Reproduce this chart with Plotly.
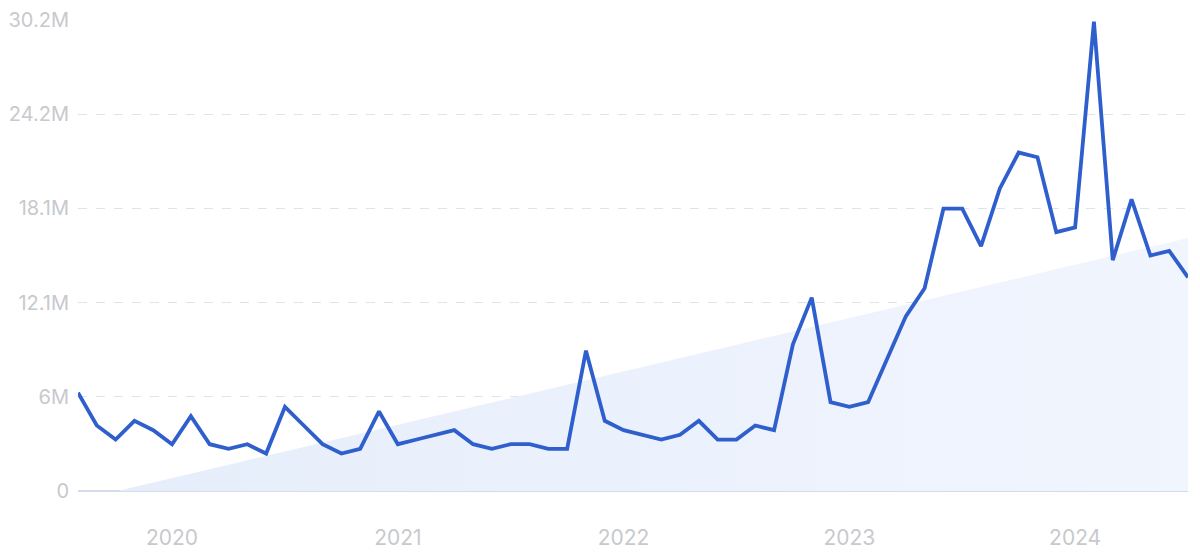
import numpy as np
import plotly.graph_objects as go

# Monthly values (millions), Aug 2019 .. Jul 2024
months = [
    "2019-08", "2019-09", "2019-10", "2019-11", "2019-12",
    "2020-01", "2020-02", "2020-03", "2020-04", "2020-05", "2020-06",
    "2020-07", "2020-08", "2020-09", "2020-10", "2020-11", "2020-12",
    "2021-01", "2021-02", "2021-03", "2021-04", "2021-05", "2021-06",
    "2021-07", "2021-08", "2021-09", "2021-10", "2021-11", "2021-12",
    "2022-01", "2022-02", "2022-03", "2022-04", "2022-05", "2022-06",
    "2022-07", "2022-08", "2022-09", "2022-10", "2022-11", "2022-12",
    "2023-01", "2023-02", "2023-03", "2023-04", "2023-05", "2023-06",
    "2023-07", "2023-08", "2023-09", "2023-10", "2023-11", "2023-12",
    "2024-01", "2024-02", "2024-03", "2024-04", "2024-05", "2024-06",
    "2024-07",
]
values_m = [
    6.3, 4.2, 3.3, 4.5, 3.9,
    3.0, 4.8, 3.0, 2.7, 3.0, 2.4,
    5.4, 4.2, 3.0, 2.4, 2.7, 5.1,
    3.0, 3.3, 3.6, 3.9, 3.0, 2.7,
    3.0, 3.0, 2.7, 2.7, 9.0, 4.5,
    3.9, 3.6, 3.3, 3.6, 4.5, 3.3,
    3.3, 4.2, 3.9, 9.4, 12.4, 5.7,
    5.4, 5.7, 8.4, 11.2, 13.0, 18.1,
    18.1, 15.7, 19.4, 21.7, 21.4, 16.6,
    16.9, 30.1, 14.8, 18.7, 15.1, 15.4,
    13.7,
]
y_tick_values_m = [0, 6.04, 12.08, 18.12, 24.16, 30.2]
y_tick_labels = ["0", "6M", "12.1M", "18.1M", "24.2M", "30.2M"]
year_labels = ["2020", "2021", "2022", "2023", "2024"]

idx = np.arange(len(months))
vals = np.array(values_m) * 1e6

# Linear trend (regression of the series), clipped at zero
a, b = np.polyfit(idx, vals, 1)
x0 = max(0.0, -b / a)
xn = float(idx[-1])
trend_x = [x0, xn]
trend_y = [a * x0 + b if x0 == 0 else 0.0, a * xn + b]

tick_idx = [i for i, m in enumerate(months) if m.endswith("-01")]

fig = go.Figure()
fig.add_trace(go.Scatter(
    x=trend_x, y=trend_y, mode="lines",
    line=dict(width=0, color="rgba(0,0,0,0)"),
    fill="tozeroy",
    fillgradient=dict(type="horizontal",
                      colorscale=[[0, "#e6eefb"], [1, "#f1f5fe"]]),
    hoverinfo="skip", showlegend=False,
))
fig.add_trace(go.Scatter(
    x=idx, y=vals, mode="lines",
    line=dict(color="#2f5fcd", width=3.8),
    showlegend=False,
))

# page body adds an 8px offset, so margins are reduced accordingly
fig.update_layout(
    width=1200, height=554,
    margin=dict(l=70, r=20, t=12, b=71, autoexpand=False),
    paper_bgcolor="white", plot_bgcolor="white",
    font=dict(family="Inter, Roboto, sans-serif", color="#c8c9cd"),
)
fig.update_xaxes(
    range=[0, xn], automargin=False,
    tickmode="array", tickvals=tick_idx, ticktext=year_labels,
    showgrid=False, zeroline=False, showline=False, ticks="",
    tickfont=dict(size=21, color="#c8c9cd"),
    ticklabelstandoff=32,
)
fig.update_yaxes(
    range=[0, 30.2e6], automargin=False,
    tickmode="array",
    tickvals=[v * 1e6 for v in y_tick_values_m], ticktext=y_tick_labels,
    showgrid=True, gridcolor="#dfe3ea", griddash="dash", gridwidth=1,
    zeroline=True, zerolinecolor="#d4dcec", zerolinewidth=1.5,
    showline=False, ticks="",
    tickfont=dict(size=20, color="#c8c9cd"),
    ticklabelstandoff=8,
)

fig.write_html("out.html")
